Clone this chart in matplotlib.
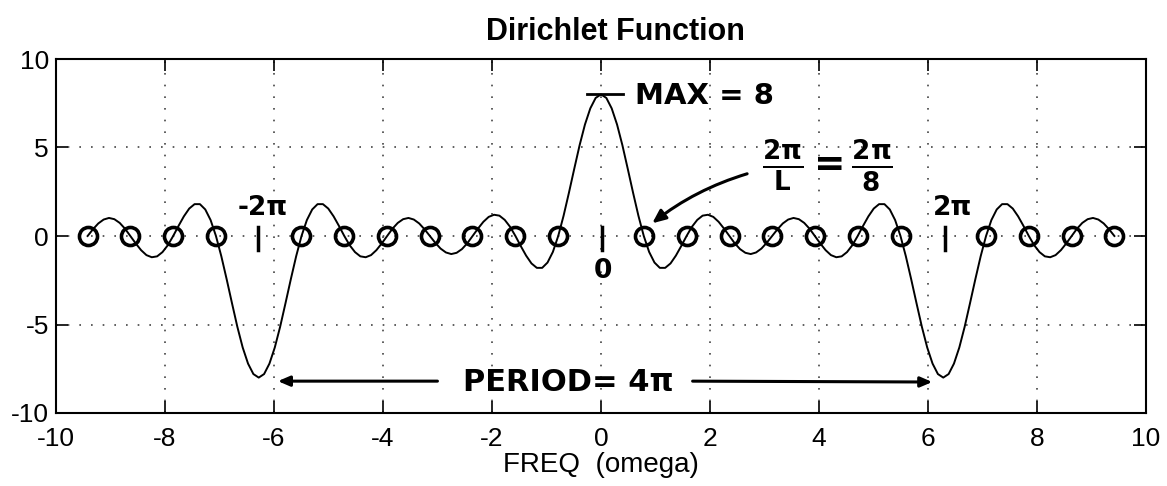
import numpy as np
import matplotlib.pyplot as plt

# Dirichlet curve at 193 evenly spaced omega samples
omega_lo, omega_hi = -9.42, 9.42
dirichlet = [
    0.00, 0.38, 0.71, 0.93, 1.02, 0.95, 0.74, 0.41,
    0.00, -0.42, -0.80, -1.08, -1.20, -1.15, -0.91, -0.52,
    0.00, 0.57, 1.11, 1.55, 1.80, 1.80, 1.50, 0.90,
    0.00, -1.14, -2.44, -3.80, -5.13, -6.30, -7.21, -7.80,
    -8.00, -7.80, -7.21, -6.30, -5.13, -3.80, -2.44, -1.14,
    0.00, 0.90, 1.50, 1.80, 1.80, 1.55, 1.11, 0.57,
    0.00, -0.52, -0.91, -1.15, -1.20, -1.08, -0.80, -0.42,
    0.00, 0.41, 0.74, 0.95, 1.02, 0.93, 0.71, 0.38,
    0.00, -0.38, -0.71, -0.93, -1.02, -0.95, -0.74, -0.41,
    0.00, 0.42, 0.80, 1.08, 1.20, 1.15, 0.91, 0.52,
    0.00, -0.57, -1.11, -1.55, -1.80, -1.80, -1.50, -0.90,
    0.00, 1.14, 2.44, 3.80, 5.13, 6.30, 7.21, 7.80,
    8.00,
    7.80, 7.21, 6.30, 5.13, 3.80, 2.44, 1.14, 0.00,
    -0.90, -1.50, -1.80, -1.80, -1.55, -1.11, -0.57, 0.00,
    0.52, 0.91, 1.15, 1.20, 1.08, 0.80, 0.42, 0.00,
    -0.41, -0.74, -0.95, -1.02, -0.93, -0.71, -0.38, 0.00,
    0.38, 0.71, 0.93, 1.02, 0.95, 0.74, 0.41, 0.00,
    -0.42, -0.80, -1.08, -1.20, -1.15, -0.91, -0.52, 0.00,
    0.57, 1.11, 1.55, 1.80, 1.80, 1.50, 0.90, 0.00,
    -1.14, -2.44, -3.80, -5.13, -6.30, -7.21, -7.80, -8.00,
    -7.80, -7.21, -6.30, -5.13, -3.80, -2.44, -1.14, 0.00,
    0.90, 1.50, 1.80, 1.80, 1.55, 1.11, 0.57, 0.00,
    -0.52, -0.91, -1.15, -1.20, -1.08, -0.80, -0.42, 0.00,
    0.41, 0.74, 0.95, 1.02, 0.93, 0.71, 0.38, 0.00,
]
omega = np.linspace(omega_lo, omega_hi, len(dirichlet))

# hand-circled zeros
zeros_x = [-9.42, -8.64, -7.85, -7.07, -5.50, -4.71, -3.93, -3.14, -2.36, -1.57, -0.79,
           0.79, 1.57, 2.36, 3.14, 3.93, 4.71, 5.50, 7.07, 7.85, 8.64, 9.42]
zeros_y = [0.0] * len(zeros_x)

xticks = [-10, -8, -6, -4, -2, 0, 2, 4, 6, 8, 10]
yticks = [-10, -5, 0, 5, 10]

plt.rcParams['font.family'] = ['Liberation Sans', 'DejaVu Sans']
plt.rcParams['axes.unicode_minus'] = False
plt.rcParams['mathtext.fontset'] = 'dejavusans'
plt.rcParams['mathtext.default'] = 'bf'
hand = dict(family='DejaVu Sans', fontweight='bold', color='black')

fig = plt.figure(figsize=(11.67, 4.86), dpi=100)
ax = fig.add_axes([56 / 1167, 1 - 413 / 486, 1090 / 1167, 354 / 486])

ax.plot(omega, dirichlet, color='black', lw=1.4)
ax.plot(zeros_x, zeros_y, ls='none', marker='o', ms=13, mfc='none', mec='black', mew=2.6)

ax.set_xlim(-10, 10)
ax.set_ylim(-10, 10)
ax.set_xticks(xticks)
ax.set_yticks(yticks)
ax.grid(True, color='#444444', ls=(0, (1, 6)), lw=1.2)
ax.tick_params(direction='in', top=True, right=True, length=8.5, width=1.2,
               labelsize=19, pad=10)
ax.tick_params(axis='y', pad=5)
for s in ax.spines.values():
    s.set_linewidth(1.5)

ax.set_title('Dirichlet Function', fontsize=22, fontweight='bold', pad=14, x=0.513)
ax.set_xlabel('FREQ  (omega)', fontsize=20, labelpad=1)

# hand-written notes
ax.plot([-0.26, 0.40], [8.0, 8.0], color='black', lw=2)
ax.text(0.62, 7.9, 'MAX = 8', fontsize=21, va='center', ha='left', **hand)

ax.text(4.15, 4.0, r'$\frac{2\pi}{L} = \frac{2\pi}{8}$', fontsize=27, va='center', ha='center', **hand)
ax.annotate('', xy=(0.9, 0.62), xytext=(2.73, 3.56),
            arrowprops=dict(arrowstyle='-|>,head_length=0.8,head_width=0.35', color='black',
                            lw=2.2, connectionstyle='arc3,rad=0.1'))

ax.text(-6.2, 1.6, '-2π', fontsize=19, va='center', ha='center', **hand)
ax.text(6.45, 1.6, '2π', fontsize=19, va='center', ha='center', **hand)
for xm in [-6.29, 0.02, 6.31]:
    ax.plot([xm, xm], [0.5, -0.8], color='black', lw=2.5)
ax.text(0.04, -1.95, '0', fontsize=19, va='center', ha='center', **hand)

ax.text(-0.6, -8.25, 'PERIOD= 4π', fontsize=22, va='center', ha='center', **hand)
ax.annotate('', xy=(-5.98, -8.2), xytext=(-2.95, -8.2),
            arrowprops=dict(arrowstyle='-|>,head_length=0.7,head_width=0.3', color='black', lw=2.2))
ax.annotate('', xy=(6.13, -8.25), xytext=(1.63, -8.2),
            arrowprops=dict(arrowstyle='-|>,head_length=0.7,head_width=0.3', color='black', lw=2.2))

fig.savefig('out.png', dpi=100)
